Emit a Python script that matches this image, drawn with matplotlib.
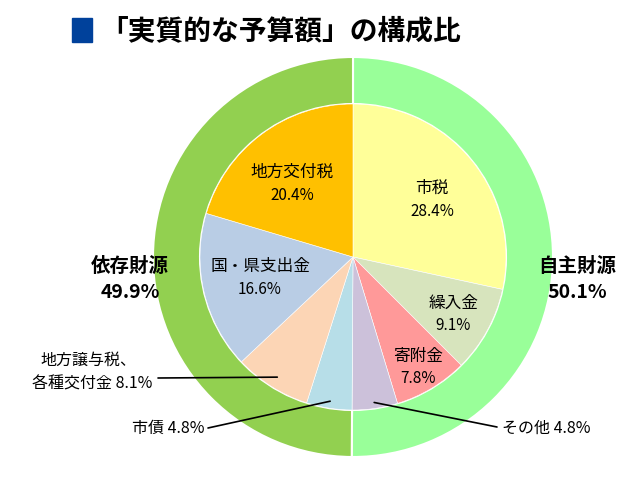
import numpy as np
import matplotlib
matplotlib.use("Agg")
import matplotlib.pyplot as plt
from matplotlib.patches import Rectangle

plt.rcParams['font.family'] = ['Noto Sans CJK JP', 'DejaVu Sans']

# ---- data ----
title = "「実質的な予算額」の構成比"
inner_labels = ["市税", "繰入金", "寄附金", "その他", "市債",
                "地方譲与税、\n各種交付金", "国・県支出金", "地方交付税"]
inner_values = [28.4, 9.1, 7.8, 4.8, 4.8, 8.1, 16.6, 20.4]
inner_colors = ["#FFFF99", "#D7E4BD", "#FF9999", "#CCC1DA", "#B7DEE8",
                "#FCD5B5", "#B9CDE5", "#FFC000"]
outer_labels = ["自主財源", "依存財源"]
outer_values = [50.1, 49.9]
outer_colors = ["#99FF99", "#92D050"]

W, H = 640, 485
fig = plt.figure(figsize=(W / 100, H / 100), dpi=100)
cx, cy, R = 353, 258, 200
ax = fig.add_axes([(cx - R) / W, (H - cy - R) / H, 2 * R / W, 2 * R / H])
ax.set_xlim(-1, 1)
ax.set_ylim(-1, 1)
ax.set_aspect('equal')
ax.axis('off')

r_in = 153 / 200

ax.pie(outer_values, colors=outer_colors, startangle=90, counterclock=False,
       radius=1.0, wedgeprops=dict(width=1.0 - r_in, edgecolor='white', linewidth=1.5))
wedges, _ = ax.pie(inner_values, colors=inner_colors, startangle=90, counterclock=False,
                   radius=r_in, wedgeprops=dict(edgecolor='white', linewidth=0.4))
ax.set_xlim(-1, 1)
ax.set_ylim(-1, 1)

def px(x, y):
    return ((x - cx) / R, (cy - y) / R)

def mid(i, r):
    w = wedges[i]
    a = np.deg2rad((w.theta1 + w.theta2) / 2)
    return (r * np.cos(a), r * np.sin(a))

# inner labels placed in wedges
inside = {0: (432, 188), 1: (453, 303), 2: (418, 356), 6: (260, 267), 7: (292, 172)}
for i, (x, y) in inside.items():
    tx, ty = px(x, y)
    ax.text(tx, ty, inner_labels[i], ha='center', va='center', fontsize=12)
    tx2, ty2 = px(x, y + 23)
    ax.text(tx2, ty2, f"{inner_values[i]}%", ha='center', va='center', fontsize=11)

# leader-line labels
lp = dict(arrowstyle='-', color='black', lw=1.2, shrinkA=0, shrinkB=0)
# その他
ax.annotate("", xy=mid(3, 0.735), xytext=px(497, 428), arrowprops=lp)
ax.text(*px(502, 428), f"{inner_labels[3]} {inner_values[3]}%", ha='left', va='center', fontsize=11.5)
# 市債
ax.annotate("", xy=mid(4, 0.73), xytext=px(208, 429), arrowprops=lp)
ax.text(*px(204, 428), f"{inner_labels[4]} {inner_values[4]}%", ha='right', va='center', fontsize=11.5)
# 地方譲与税
ax.annotate("", xy=mid(5, 0.71), xytext=px(158, 379), arrowprops=lp)
l1, l2 = inner_labels[5].split("\n")
ax.text(*px(88, 360), l1, ha='center', va='center', fontsize=11.5)
ax.text(*px(152, 384), f"{l2} {inner_values[5]}%", ha='right', va='center', fontsize=11.5)

# outer labels
ax.text(*px(577, 266), outer_labels[0], ha='center', va='center', fontsize=14, fontweight='bold')
ax.text(*px(577, 292), f"{outer_values[0]}%", ha='center', va='center', fontsize=14, fontweight='bold')
ax.text(*px(130, 266), outer_labels[1], ha='center', va='center', fontsize=14, fontweight='bold')
ax.text(*px(130, 292), f"{outer_values[1]}%", ha='center', va='center', fontsize=14, fontweight='bold')

# title
fig.patches.append(Rectangle((72 / W, (H - 43) / H), 20 / W, 24 / H,
                             transform=fig.transFigure, color='#00419B'))
fig.text(100 / W, (H - 31) / H, title, ha='left', va='center', fontsize=20, fontweight='bold')

fig.savefig("out.png", dpi=100)
